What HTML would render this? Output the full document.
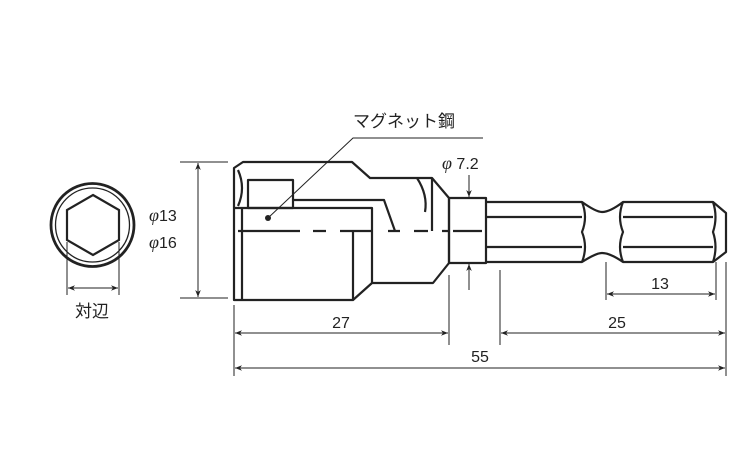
<!DOCTYPE html>
<html><head><meta charset="utf-8"><style>
body{margin:0;background:#fff}
svg{display:block}
text{font-family:"Liberation Sans","Noto Sans CJK JP",sans-serif;fill:#222}
.p{font-family:"Liberation Serif",serif;font-style:italic}
</style></head><body>
<svg width="750" height="450" viewBox="0 0 750 450" xmlns="http://www.w3.org/2000/svg">
<defs>
<marker id="a" viewBox="0 0 10 10" refX="10" refY="5" markerWidth="9" markerHeight="7" orient="auto-start-reverse" markerUnits="userSpaceOnUse"><path d="M0,1 L10,5 L0,9 L3,5z" fill="#222"/></marker>
</defs>
<g fill="none" stroke="#222" stroke-width="2.2">
<circle cx="92.5" cy="225" r="41.5" stroke-width="2.8"/>
<circle cx="92.5" cy="225" r="37" stroke-width="1.3"/>
<polygon points="93,195 119,210 119,240 93,255 67,240 67,210"/>
</g>
<g stroke="#222" stroke-width="1" fill="none">
<line x1="67" y1="242" x2="67" y2="295"/>
<line x1="119" y1="242" x2="119" y2="295"/>
<line x1="68" y1="288" x2="118" y2="288" marker-start="url(#a)" marker-end="url(#a)"/>
<line x1="180" y1="162" x2="228" y2="162"/>
<line x1="180" y1="298" x2="228" y2="298"/>
<line x1="198" y1="163" x2="198" y2="297" marker-start="url(#a)" marker-end="url(#a)"/>
<line x1="234" y1="305" x2="234" y2="376"/>
<line x1="449" y1="275" x2="449" y2="345"/>
<line x1="500" y1="270" x2="500" y2="345"/>
<line x1="726" y1="262" x2="726" y2="376"/>
<line x1="606" y1="262" x2="606" y2="300"/>
<line x1="716" y1="262" x2="716" y2="300"/>
<line x1="235" y1="333" x2="448" y2="333" marker-start="url(#a)" marker-end="url(#a)"/>
<line x1="501" y1="333" x2="725" y2="333" marker-start="url(#a)" marker-end="url(#a)"/>
<line x1="607" y1="294" x2="715" y2="294" marker-start="url(#a)" marker-end="url(#a)"/>
<line x1="235" y1="368" x2="725" y2="368" marker-start="url(#a)" marker-end="url(#a)"/>
<line x1="469" y1="175" x2="469" y2="197" marker-end="url(#a)"/>
<line x1="469" y1="290" x2="469" y2="264" marker-end="url(#a)"/>
<polyline points="268,218 353,138 483,138"/>
</g>
<circle cx="268" cy="218" r="3" fill="#222"/>
<g fill="none" stroke="#222" stroke-width="2.2" stroke-linejoin="round">
<polygon points="234,168 243,162 352,162 370,178 432,178 449,198 449,263 433,283 372,283 353,300 234,300"/>
<rect x="449" y="198" width="37" height="65"/>
<path d="M242,208 V300 M234,208 H372 V283 M353,232 V300"/>
<rect x="248" y="180" width="45" height="28"/>
<path d="M293,200 H384 L395,231"/>
<path d="M417,178 Q428,195 425,212 M432,178 V231"/>
<path d="M238,170 Q246,188 238,206"/>
<path d="M486,202 H582 Q596,212 602,212 Q610,212 623,202 H713 L726,213 V252 L713,262 H623 Q610,253 602,253 Q596,253 582,262 H486"/>
<path d="M486,217 H582 M486,247 H582 M623,217 H713 M623,247 H713"/>
<path d="M582,202 Q588,217 582,232 Q588,247 582,262 M623,202 Q617,217 623,232 Q617,247 623,262"/>
<path d="M713,202 Q718,217 713,232 Q718,247 713,262"/>
</g>
<g stroke="#222" stroke-width="2.2">
<path d="M238,231 H300 M313,231 H326 M340,231 H372 M388,231 H400 M414,231 H428 M442,231 H449 M453,231 H482"/>
</g>
<g font-size="16">
<text x="149" y="221"><tspan class="p" font-size="18">φ</tspan>13</text>
<text x="149" y="248"><tspan class="p" font-size="18">φ</tspan>16</text>
<text x="92" y="317" text-anchor="middle" font-size="17">対辺</text>
<text x="353" y="127" font-size="17">マグネット鋼</text>
<text x="442" y="169"><tspan class="p" font-size="18">φ</tspan> 7.2</text>
<text x="341" y="328" text-anchor="middle">27</text>
<text x="617" y="328" text-anchor="middle">25</text>
<text x="660" y="289" text-anchor="middle">13</text>
<text x="480" y="362" text-anchor="middle">55</text>
</g>
</svg>
</body></html>
